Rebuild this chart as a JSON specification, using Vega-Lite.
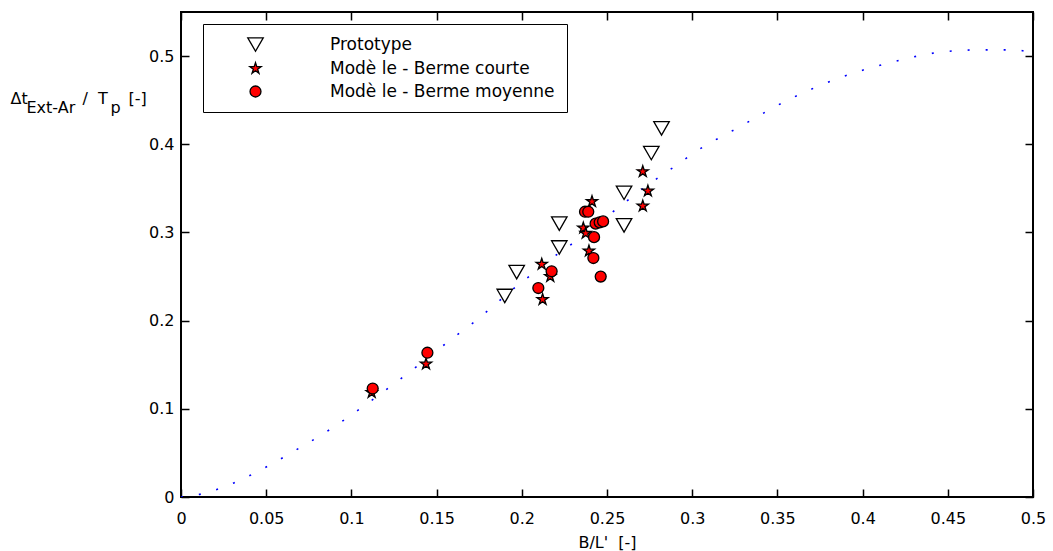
{
  "$schema": "https://vega.github.io/schema/vega-lite/v6.json",
  "width": 852,
  "height": 485,
  "autosize": {"type": "none"},
  "padding": {"left": 181, "top": 12, "right": 20, "bottom": 54},
  "background": "white",
  "datasets": {
    "curve": [
      {"x": 0.0, "y": 0.0},
      {"x": 0.011, "y": 0.003},
      {"x": 0.031, "y": 0.016},
      {"x": 0.05, "y": 0.034},
      {"x": 0.069, "y": 0.055},
      {"x": 0.087, "y": 0.076},
      {"x": 0.105, "y": 0.1},
      {"x": 0.122, "y": 0.124},
      {"x": 0.139, "y": 0.149},
      {"x": 0.156, "y": 0.175},
      {"x": 0.173, "y": 0.2},
      {"x": 0.1976, "y": 0.24},
      {"x": 0.2062, "y": 0.253},
      {"x": 0.222, "y": 0.277},
      {"x": 0.2316, "y": 0.29},
      {"x": 0.248, "y": 0.316},
      {"x": 0.2572, "y": 0.3287},
      {"x": 0.265, "y": 0.341},
      {"x": 0.283, "y": 0.366},
      {"x": 0.2918, "y": 0.3776},
      {"x": 0.3, "y": 0.389},
      {"x": 0.328, "y": 0.42},
      {"x": 0.356, "y": 0.45},
      {"x": 0.386, "y": 0.475},
      {"x": 0.417, "y": 0.493},
      {"x": 0.448, "y": 0.505},
      {"x": 0.469, "y": 0.507},
      {"x": 0.49, "y": 0.507},
      {"x": 0.5, "y": 0.502}
    ],
    "points": [
      {"s": "Prototype", "x": 0.19, "y": 0.228},
      {"s": "Prototype", "x": 0.197, "y": 0.255},
      {"s": "Prototype", "x": 0.222, "y": 0.283},
      {"s": "Prototype", "x": 0.222, "y": 0.31},
      {"s": "Prototype", "x": 0.26, "y": 0.308},
      {"s": "Prototype", "x": 0.26, "y": 0.345},
      {"s": "Prototype", "x": 0.276, "y": 0.39},
      {"s": "Prototype", "x": 0.282, "y": 0.418},
      {"s": "Modè le - Berme courte", "x": 0.1119, "y": 0.1185},
      {"s": "Modè le - Berme courte", "x": 0.1438, "y": 0.1508},
      {"s": "Modè le - Berme courte", "x": 0.2122, "y": 0.224},
      {"s": "Modè le - Berme courte", "x": 0.2117, "y": 0.264},
      {"s": "Modè le - Berme courte", "x": 0.2167, "y": 0.25},
      {"s": "Modè le - Berme courte", "x": 0.2394, "y": 0.279},
      {"s": "Modè le - Berme courte", "x": 0.2361, "y": 0.305},
      {"s": "Modè le - Berme courte", "x": 0.2375, "y": 0.299},
      {"s": "Modè le - Berme courte", "x": 0.2412, "y": 0.335},
      {"s": "Modè le - Berme courte", "x": 0.271, "y": 0.369},
      {"s": "Modè le - Berme courte", "x": 0.274, "y": 0.347},
      {"s": "Modè le - Berme courte", "x": 0.271, "y": 0.33},
      {"s": "Modè le - Berme moyenne", "x": 0.1125, "y": 0.123},
      {"s": "Modè le - Berme moyenne", "x": 0.1446, "y": 0.1636},
      {"s": "Modè le - Berme moyenne", "x": 0.2097, "y": 0.237},
      {"s": "Modè le - Berme moyenne", "x": 0.2175, "y": 0.256},
      {"s": "Modè le - Berme moyenne", "x": 0.242, "y": 0.271},
      {"s": "Modè le - Berme moyenne", "x": 0.2463, "y": 0.25},
      {"s": "Modè le - Berme moyenne", "x": 0.2424, "y": 0.2947},
      {"s": "Modè le - Berme moyenne", "x": 0.2371, "y": 0.3235},
      {"s": "Modè le - Berme moyenne", "x": 0.239, "y": 0.3235},
      {"s": "Modè le - Berme moyenne", "x": 0.2433, "y": 0.31},
      {"s": "Modè le - Berme moyenne", "x": 0.2457, "y": 0.3115},
      {"s": "Modè le - Berme moyenne", "x": 0.2477, "y": 0.3125}
    ]
  },
  "layer": [
    {
      "data": {"name": "curve"},
      "mark": {"type": "line", "color": "#0000ff", "strokeWidth": 1.6, "strokeDash": [2, 16], "interpolate": "monotone", "clip": true},
      "encoding": {
        "x": {
          "field": "x", "type": "quantitative",
          "scale": {"domain": [0, 0.5], "nice": false, "zero": false},
          "axis": {
            "orient": "bottom",
            "offset": -8,
            "values": [0, 0.05, 0.1, 0.15, 0.2, 0.25, 0.3, 0.35, 0.4, 0.45, 0.5],
            "format": "~g",
            "labelPadding": 13,
            "labelFlush": false,
            "title": "B/L'\u00a0\u00a0[-]",
            "titleX": 426, "titleY": 58,
            "titleAlign": "center", "titleBaseline": "alphabetic"
          }
        },
        "y": {
          "field": "y", "type": "quantitative",
          "scale": {"domain": [0, 0.55], "nice": false, "zero": false},
          "axis": {
            "orient": "left",
            "offset": -8,
            "values": [0, 0.1, 0.2, 0.3, 0.4, 0.5],
            "format": "~g",
            "labelPadding": 7,
            "labelFlush": false,
            "title": "Δt",
            "titleAngle": 0, "titleX": -179, "titleY": 91,
            "titleAlign": "left", "titleBaseline": "alphabetic"
          }
        }
      }
    },
    {
      "data": {"name": "points"},
      "transform": [{"filter": "datum.s === 'Prototype'"}],
      "mark": {"type": "point", "filled": true, "stroke": "black", "strokeWidth": 1.3, "opacity": 1, "fillOpacity": 1, "strokeOpacity": 1},
      "encoding": {
        "x": {
          "field": "x", "type": "quantitative",
          "axis": {
            "orient": "top",
            "offset": -8,
            "values": [0, 0.05, 0.1, 0.15, 0.2, 0.25, 0.3, 0.35, 0.4, 0.45, 0.5],
            "labels": false,
            "title": "Ext-Ar",
            "titleX": -155, "titleY": 92,
            "titleAlign": "left", "titleBaseline": "alphabetic"
          }
        },
        "y": {
          "field": "y", "type": "quantitative",
          "axis": {
            "orient": "right",
            "offset": -8,
            "values": [0, 0.1, 0.2, 0.3, 0.4, 0.5],
            "labels": false,
            "title": "/\u00a0\u00a0T",
            "titleAngle": 0, "titleX": -943, "titleY": 91,
            "titleAlign": "left", "titleBaseline": "alphabetic"
          }
        },
        "fill": {
          "field": "s", "type": "nominal",
          "scale": {"domain": ["Prototype", "Modè le - Berme courte", "Modè le - Berme moyenne"], "range": ["white", "#ff0000", "#ff0000"]},
          "legend": {
            "title": null,
            "orient": "none",
            "legendX": 22, "legendY": 12,
            "strokeColor": "black",
            "fillColor": "white",
            "padding": 12,
            "symbolOffset": 32,
            "labelOffset": 66,
            "rowPadding": 5,
            "symbolStrokeColor": "black",
            "symbolStrokeWidth": 1.3,
            "labelFont": "DejaVu Sans",
            "labelFontSize": 17,
            "labelColor": "black",
            "labelLimit": 400
          }
        },
        "shape": {
          "field": "s", "type": "nominal",
          "scale": {"domain": ["Prototype", "Modè le - Berme courte", "Modè le - Berme moyenne"], "range": ["triangle-down", "M0,-1L0.2245,-0.309L0.951,-0.309L0.363,0.118L0.588,0.809L0,0.382L-0.588,0.809L-0.363,0.118L-0.951,-0.309L-0.2245,-0.309Z", "circle"]}
        },
        "size": {
          "field": "s", "type": "nominal",
          "scale": {"type": "ordinal", "domain": ["Prototype", "Modè le - Berme courte", "Modè le - Berme moyenne"], "range": [240, 140, 120]}
        }
      }
    },
    {
      "data": {"name": "points"},
      "transform": [{"filter": "datum.s === 'Modè le - Berme courte'"}],
      "mark": {"type": "point", "filled": true, "fill": "#ff0000", "shape": "M0,-1L0.2245,-0.309L0.951,-0.309L0.363,0.118L0.588,0.809L0,0.382L-0.588,0.809L-0.363,0.118L-0.951,-0.309L-0.2245,-0.309Z", "size": 140, "stroke": "black", "strokeWidth": 1.3, "opacity": 1, "fillOpacity": 1, "strokeOpacity": 1},
      "encoding": {
        "x": {
          "field": "x", "type": "quantitative",
          "axis": {
            "orient": "top",
            "ticks": false,
            "labels": false,
            "title": "p",
            "titleX": -71, "titleY": 100,
            "titleAlign": "left", "titleBaseline": "alphabetic"
          }
        },
        "y": {
          "field": "y", "type": "quantitative",
          "axis": {
            "orient": "left",
            "ticks": false,
            "labels": false,
            "title": "[-]",
            "titleAngle": 0, "titleX": -53, "titleY": 91,
            "titleAlign": "left", "titleBaseline": "alphabetic"
          }
        }
      }
    },
    {
      "data": {"name": "points"},
      "transform": [{"filter": "datum.s === 'Modè le - Berme moyenne'"}],
      "mark": {"type": "point", "filled": true, "fill": "#ff0000", "shape": "circle", "size": 120, "stroke": "black", "strokeWidth": 1.3, "opacity": 1, "fillOpacity": 1, "strokeOpacity": 1},
      "encoding": {
        "x": {"field": "x", "type": "quantitative", "axis": null},
        "y": {"field": "y", "type": "quantitative", "axis": null}
      }
    }
  ],
  "resolve": {"axis": {"x": "independent", "y": "independent"}},
  "config": {
    "view": {"stroke": "black", "strokeWidth": 2},
    "axis": {
      "domain": false,
      "grid": false,
      "ticks": true,
      "tickSize": 8,
      "tickColor": "#000000",
      "tickWidth": 1.5,
      "tickOpacity": 1,
      "labelFont": "DejaVu Sans",
      "labelFontSize": 16,
      "labelColor": "black",
      "titleFont": "DejaVu Sans",
      "titleFontSize": 16,
      "titleFontWeight": "normal",
      "titleColor": "black"
    }
  }
}
